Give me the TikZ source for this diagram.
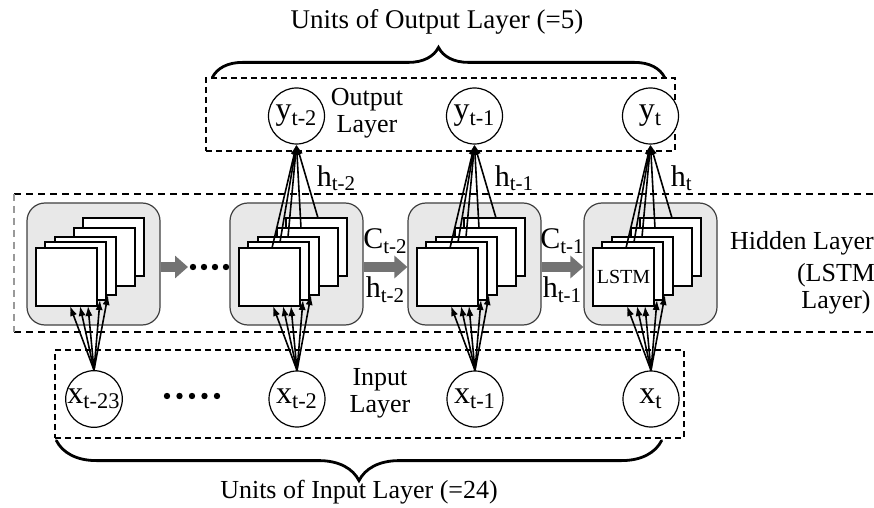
\documentclass[tikz,border=0pt]{standalone}
\usepackage{fontspec}
\setmainfont{Liberation Serif}
\usetikzlibrary{calc,arrows.meta,positioning,decorations.pathreplacing}
\tikzset{
  layerbox/.style={draw=black, dash pattern=on 3pt off 2pt, line width=0.6pt, inner sep=0pt},
  hidline/.style={draw=black, dash pattern=on 3.5pt off 2.5pt, line width=0.7pt},
  lstmbox/.style={draw=black!75, fill=black!9, rounded corners=9pt, line width=0.6pt,
    minimum width=66.5pt, minimum height=61pt, inner sep=0pt},
  cell/.style={draw=black, fill=white, line width=1.4pt, minimum width=30.5pt,
    minimum height=29pt, inner sep=0pt, outer sep=0pt},
  unit/.style={draw=black, circle, fill=white, line width=0.6pt, minimum size=28pt,
    inner sep=0pt, font=\fontsize{16}{17}\selectfont},
  lbl/.style={align=center, font=\fontsize{13}{13.5}\selectfont, inner sep=0pt},
  sublbl/.style={font=\fontsize{15}{16}\selectfont, inner sep=0pt},
  arr/.style={-{Latex[length=5pt,width=3.6pt]}, line width=0.8pt},
  flow/.style={draw=black!55, line width=5pt, -{Triangle[length=6.5pt,width=11pt]}},
  brc/.style={decorate, line width=1.4pt, line cap=round}
}

\begin{document}
\begin{tikzpicture}[x=0.5pt, y=-0.5pt]
  \useasboundingbox (0,0) rectangle (874,508);

  % hidden layer band -- open to the right edge
  \draw[hidline] (14,194) -- (874,194);
  \draw[hidline] (14,332) -- (874,332);
  \draw[hidline, draw=black!40] (14,194) -- (14,332);

  % output / input layer boxes
  \node[layerbox, minimum width=234.5pt, minimum height=36.5pt] (outbox) at (440.5,114.5) {};
  \node[layerbox, minimum width=314.5pt, minimum height=44pt] (inbox) at (369.5,394) {};

  % LSTM blocks with their stacks of cells, input unit below each
  \foreach \bx/\k/\idx in {27/a/t-23, 230/b/t-2, 408/c/t-1, 584/d/t} {
    \node[lstmbox] (hid\k) at ({\bx+66.5},264) {};
    \foreach \dx/\dy/\i in {47/-30/5, 38/-20/4, 19/-11/3, 9/-6/2, 0/0/1}
      \node[cell] (cell\k\i) at ({\bx+39.5+\dx},{277+\dy}) {};
    \node[unit] (in\k) at ({\bx+67},399) {x\textsubscript{\idx}};
    \foreach \i/\off in {1/34, 1/44, 1/52, 2/55, 3/53}
      \draw[arr] (in\k.north) -- ($(cell\k\i.south west)+(\off,0)$);
  }
  \node[font=\fontsize{10}{11}\selectfont] (lstmtxt) at (celld1) {LSTM};

  % output units, fed from the cells above t-2, t-1, t
  \foreach \k/\idx in {b/t-2, c/t-1, d/t} {
    \node[unit] (out\k) at (hid\k.center |- 0,116) {y\textsubscript{\idx}};
    \foreach \i/\off in {1/33, 2/32, 3/30, 4/24, 5/32}
      \draw[arr] ($(cell\k\i.north west)+(\off,0)$) -- (out\k.south);
    \node[sublbl, anchor=base west] (h\k) at ($(out\k.south)+(20,42)$) {h\textsubscript{\idx}};
  }

  % state passed along the chain
  \coordinate (gap) at (188,267);
  \draw[flow] ([yshift=-1.5pt]hida.east) -- (gap);
  \foreach \x in {193,204,215,226}
    \fill (\x,267) circle[radius=1.6pt];
  \draw[flow] ([yshift=-1.5pt]hidb.east) -- ([yshift=-1.5pt]hidc.west)
    node[sublbl, midway, anchor=base, yshift=9pt] {C\textsubscript{t-2}}
    node[sublbl, midway, anchor=base, yshift=-15.5pt] {h\textsubscript{t-2}};
  \draw[flow] ([yshift=-1.5pt]hidc.east) -- ([yshift=-1.5pt]hidd.west)
    node[sublbl, midway, anchor=base, yshift=9pt] {C\textsubscript{t-1}}
    node[sublbl, midway, anchor=base, yshift=-15.5pt] {h\textsubscript{t-1}};

  % layer names
  \node[lbl] (outlbl) at (367,113) {Output\\Layer};
  \node[lbl] (inlbl) at (380,393) {Input\\Layer};
  \foreach \x in {167,179.5,192,204.5,217}
    \fill (\x,396) circle[radius=1.6pt];
  \node[lbl] (hidlbl) at (802,243) {Hidden Layer};
  \node[lbl] (lstmlbl) at (836,289) {(LSTM\\Layer)};

  % braces and unit counts
  \draw[brc, decoration={brace, amplitude=15pt}]
    ($(outbox.north west)+(7,0)$) -- ($(outbox.north east)+(-11,0)$);
  \node[lbl, font=\fontsize{13.5}{14}\selectfont] (outtitle) at (437,22) {Units of Output Layer (=5)};
  \draw[brc, decoration={brace, amplitude=20pt}]
    ($(inbox.south east)+(-23,2)$) -- ($(inbox.south west)+(2,2)$);
  \node[lbl] (intitle) at (359,492) {Units of Input Layer (=24)};

\end{tikzpicture}
\end{document}
